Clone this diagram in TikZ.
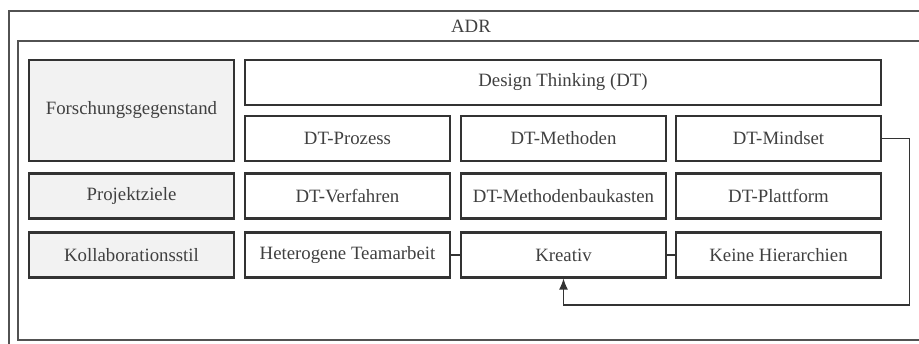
\documentclass[tikz,border=0pt]{standalone}
\usepackage{fontspec}
\setmainfont{Liberation Serif}
\usetikzlibrary{arrows.meta,positioning}
\definecolor{ink}{HTML}{333333}
\definecolor{txt}{HTML}{404040}
\definecolor{pale}{HTML}{F2F2F2}

\begin{document}
\begin{tikzpicture}[
  x=1cm,y=1cm,>={Latex[length=2.2mm,width=1.8mm]},
  cell/.style={draw=ink,line width=1.2pt,fill=white,text=txt,
    font=\fontsize{10.7}{13}\selectfont,minimum width=4.1cm,
    minimum height=0.9cm,inner sep=2pt},
  topic/.style={cell,fill=pale},
  wide/.style={cell,minimum width=12.72cm},
  frame/.style={draw=ink!85,line width=1pt},
  link/.style={draw=ink,line width=0.7pt}
]
\useasboundingbox (0,0) rectangle (18.38,6.86);
\clip (0,0) rectangle (18.38,6.86);
% ADR frames
\draw[frame] (0.18,-0.3) rectangle (18.66,6.64);
\draw[frame] (0.36,0.06) rectangle (18.6,6.04);
\node[text=txt,font=\fontsize{10.7}{13}\selectfont] (adr) at (9.42,6.33) {ADR};
% left column
\node[topic,minimum height=2.02cm] (forsch) at (2.63,4.65) {Forschungsgegenstand};
\node[topic]   (ziele)  at (2.63,2.94) {Projektziele};
\node[topic]   (stil)   at (2.63,1.76) {Kollaborationsstil};
% Design Thinking
\node[wide]    (dt)     at (11.26,5.21) {Design Thinking (DT)};
\node[cell]    (proz)   at (6.95,4.09) {DT-Prozess};
\node[cell]    (meth)   at (11.27,4.09) {DT-Methoden};
\node[cell]    (mind)   at (15.57,4.09) {DT-Mindset};
\node[cell]    (verf)   at (6.95,2.94) {DT-Verfahren};
\node[cell]    (bauk)   at (11.27,2.94) {DT-Methodenbaukasten};
\node[cell]    (platt)  at (15.57,2.94) {DT-Plattform};
\node[cell]    (hetero) at (6.95,1.76) {Heterogene Teamarbeit};
\node[cell]    (krea)   at (11.27,1.76) {Kreativ};
\node[cell]    (hier)   at (15.57,1.76) {Keine Hierarchien};
\draw[link] (hetero.east) -- (krea.west);
\draw[link] (krea.east) -- (hier.west);
\draw[link,->] (mind.east) -- ++(0.55,0) |- (11.27,0.76) -- (krea.south);
\end{tikzpicture}
\end{document}
